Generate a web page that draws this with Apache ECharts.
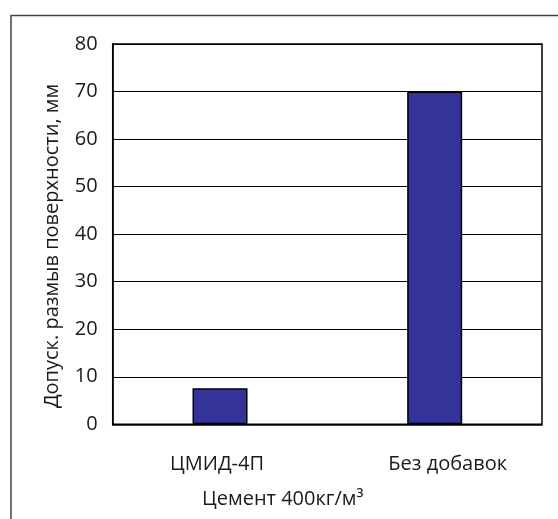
<!DOCTYPE html>
<html>
<head>
<meta charset="utf-8">
<script src="https://cdn.jsdelivr.net/npm/echarts@6/dist/echarts.min.js"></script>
<style>html,body{margin:0;padding:0;background:#fff}#c{width:558px;height:519px}</style>
</head>
<body>
<div id="c"></div>
<script>
const categories = ['ЦМИД-4П', 'Без добавок'];
const values = [7.6, 70];
const yTicks = [0, 10, 20, 30, 40, 50, 60, 70, 80];
const yTitle = 'Допуск. размыв поверхности, мм';
const xTitle = 'Цемент 400кг/м³';

const FONT = '"Open Sans", "Noto Sans", sans-serif';
const chart = echarts.init(document.getElementById('c'), null, {renderer: 'canvas'});
chart.setOption({
  backgroundColor: '#fff',
  animation: false,
  grid: {left: 112.7, top: 44, right: 16, bottom: 94.7, show: true, borderColor: '#000', borderWidth: 1.5, backgroundColor: 'transparent'},
  xAxis: {
    type: 'category', data: categories,
    axisLine: {show: true, lineStyle: {color: '#000', width: 1.5}},
    axisTick: {show: false},
    axisLabel: {
      margin: 30, color: '#1a1a1a',
      formatter: function (v, i) { return '{c' + i + '|' + v + '}'; },
      rich: {
        c0: {fontSize: 20, fontFamily: FONT, color: '#1a1a1a', padding: [0, 6, 0, 0]},
        c1: {fontSize: 20, fontFamily: FONT, color: '#1a1a1a', padding: [0, 0, 0, 26]}
      }
    }
  },
  yAxis: {
    type: 'value', min: yTicks[0], max: yTicks[yTicks.length - 1], interval: 10,
    axisLine: {show: true, lineStyle: {color: '#000', width: 1.5}},
    axisTick: {show: false},
    splitLine: {show: true, lineStyle: {color: '#000', width: 1}},
    axisLabel: {margin: 15, fontSize: 20, color: '#1a1a1a', fontFamily: FONT}
  },
  series: [{
    type: 'bar', data: values, barWidth: 55,
    itemStyle: {color: '#333399', borderColor: '#000', borderWidth: 1.5}
  }],
  graphic: [
    {type: 'polyline', shape: {points: [[11, 530], [11, 15.5], [570, 15.5]]}, style: {stroke: '#444', lineWidth: 1.5, fill: null}},
    {type: 'text', x: 52, y: 246, rotation: Math.PI / 2, style: {text: yTitle, fontSize: 20, fill: '#1a1a1a', fontFamily: FONT, align: 'center', verticalAlign: 'middle'}},
    {type: 'text', left: 202, top: 489, style: {text: xTitle, fontSize: 20, fill: '#1a1a1a', fontFamily: FONT}}
  ]
});
</script>
</body>
</html>
